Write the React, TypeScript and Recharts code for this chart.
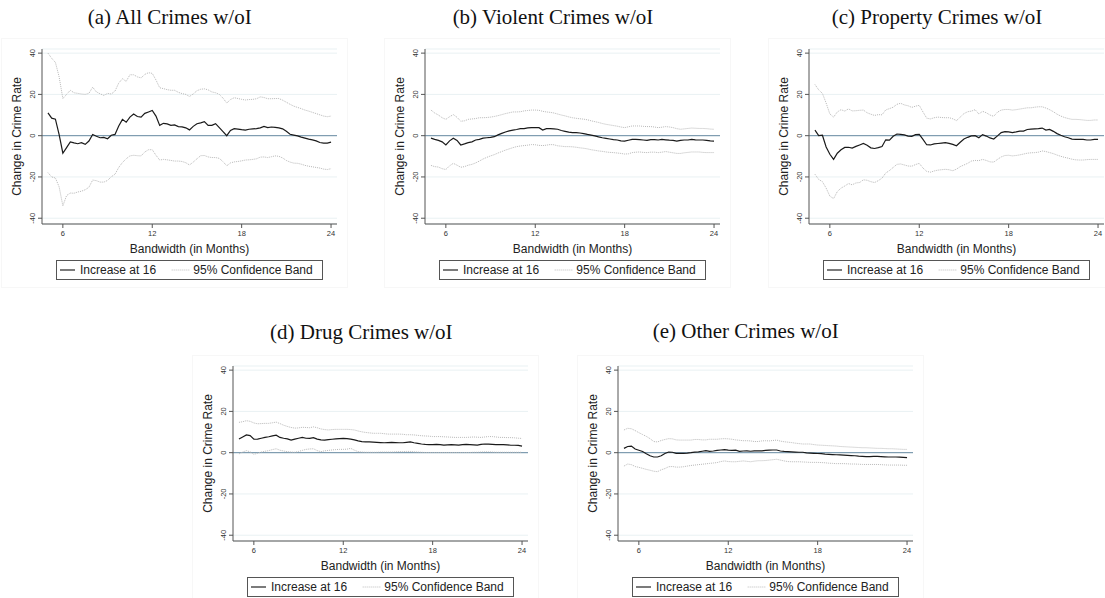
import React from 'react';
import { LineChart, Line, XAxis, YAxis, CartesianGrid, ReferenceLine } from 'recharts';

// bandwidth grid (months), one row per month
const BANDWIDTH = [
  5, 5.25, 5.5, 5.75,
  6, 6.25, 6.5, 6.75,
  7, 7.25, 7.5, 7.75,
  8, 8.25, 8.5, 8.75,
  9, 9.25, 9.5, 9.75,
  10, 10.25, 10.5, 10.75,
  11, 11.25, 11.5, 11.75,
  12, 12.25, 12.5, 12.75,
  13, 13.25, 13.5, 13.75,
  14, 14.25, 14.5, 14.75,
  15, 15.25, 15.5, 15.75,
  16, 16.25, 16.5, 16.75,
  17, 17.25, 17.5, 17.75,
  18, 18.25, 18.5, 18.75,
  19, 19.25, 19.5, 19.75,
  20, 20.25, 20.5, 20.75,
  21, 21.25, 21.5, 21.75,
  22, 22.25, 22.5, 22.75,
  23, 23.25, 23.5, 23.75,
  24,
];

const X_TICKS = [6, 12, 18, 24];
const Y_TICKS = [-40, -20, 0, 20, 40];

const ALL_EST = [
  11.0, 8.5, 8.0, 0.5,
  -8.5, -5.8, -3.0, -3.5,
  -3.9, -3.4, -4.2, -2.6,
  0.6, -0.3, -1.0, -0.8,
  -1.5, 0.2, 0.6, 4.7,
  7.9, 6.5, 9.0, 10.5,
  9.3, 9.0, 10.8, 11.5,
  12.2, 9.5, 5.0, 6.0,
  5.7, 5.0, 5.2, 4.4,
  4.3, 3.8, 2.8, 4.5,
  5.8, 6.2, 6.8, 5.0,
  5.0, 5.8, 3.9, 2.0,
  0.0, 2.5, 3.4, 3.2,
  2.9, 2.7, 3.1, 3.3,
  3.4, 3.8, 4.5, 3.9,
  4.2, 4.0, 3.8, 3.3,
  2.1, 0.7, 0.3, -0.1,
  -0.7, -1.2, -1.7, -2.0,
  -2.5, -3.3, -3.6, -3.6,
  -3.1,
];
const ALL_UPPER = [
  40, 37.5, 35.5, 28.5,
  18.0, 20.0, 22.0, 20.8,
  20.5, 20.2, 20.0, 20.5,
  23.5, 21.2, 20.3, 19.5,
  20.5, 20.2, 21.6, 25.5,
  27.6, 26.3, 29.5, 29.5,
  28.5, 28.0, 29.7, 30.5,
  30.2, 27.0, 23.2, 22.8,
  22.3, 22.0, 22.0, 21.0,
  20.4, 20.0, 19.0, 20.2,
  21.8, 22.5, 22.7, 22.2,
  21.2, 20.8, 20.0, 18.2,
  15.8, 17.5, 18.4, 18.0,
  17.6, 17.3, 17.5, 17.6,
  17.9, 18.8, 18.5, 17.9,
  17.9, 18.0, 18.0, 17.2,
  16.2, 15.2, 14.3, 13.7,
  13.1, 12.4, 11.9, 11.3,
  10.7, 10.1, 9.5, 9.2,
  9.5,
];
const ALL_LOWER = [
  -17.9, -20.0, -20.5, -24.8,
  -34.0, -29.0, -27.8, -27.9,
  -27.3, -26.9, -26.2, -25.0,
  -21.5, -21.8, -22.5, -22.5,
  -21.7, -19.9, -18.7, -15.4,
  -13.0, -11.2, -9.8, -9.5,
  -9.7, -9.8, -7.9, -6.8,
  -6.8, -9.5, -11.8, -11.5,
  -11.7, -12.0, -12.3, -12.3,
  -12.5, -13.1, -14.2, -12.8,
  -11.2, -9.7, -9.6, -10.3,
  -10.6, -10.6, -11.0, -12.6,
  -14.6, -13.2, -12.7, -12.5,
  -12.2, -11.8, -11.7, -11.5,
  -11.2, -10.4, -10.3, -10.6,
  -10.2, -9.8, -10.0, -10.8,
  -12.0, -12.8, -13.3, -13.4,
  -13.8, -14.4, -14.8, -15.1,
  -15.4, -15.7, -16.2, -16.4,
  -16.0,
];

const VIOLENT_EST = [
  -1.2, -1.8, -2.3, -3.0,
  -4.5, -2.5, -1.2, -2.3,
  -4.5, -4.0, -3.4, -3.0,
  -2.1, -1.8, -1.2, -1.0,
  -0.8, -0.5, 0.4, 1.1,
  1.8, 2.3, 2.7, 3.0,
  3.4, 3.4, 3.8, 3.9,
  3.9, 3.9, 2.7, 3.4,
  3.4, 3.3, 3.1, 2.5,
  2.1, 1.7, 1.5, 1.5,
  1.3, 1.0, 0.6, 0.3,
  -0.1, -0.6, -1.0, -1.3,
  -1.6, -1.9, -2.1, -2.5,
  -2.6, -2.2, -1.8, -1.8,
  -1.9, -2.1, -2.3, -1.9,
  -1.9, -2.1, -1.8, -2.0,
  -2.2, -2.3, -2.6, -2.3,
  -2.1, -2.1, -1.8, -2.0,
  -2.1, -2.1, -2.3, -2.5,
  -2.6,
];
const VIOLENT_UPPER = [
  12.4, 11.0, 10.0, 8.7,
  7.9, 9.2, 10.2, 8.9,
  7.0, 7.2, 7.9, 8.1,
  8.3, 8.7, 8.7, 8.8,
  9.0, 9.3, 9.7, 10.2,
  10.7, 11.1, 11.5, 11.5,
  11.6, 12.0, 12.2, 12.4,
  12.4, 12.3, 11.8, 11.5,
  11.3, 11.0, 10.5, 10.0,
  9.6, 9.1, 8.7, 8.4,
  8.2, 8.0, 7.7, 7.2,
  6.8, 6.4, 5.9, 5.5,
  5.2, 4.9, 4.6, 4.2,
  3.9, 4.3, 4.7, 4.7,
  4.7, 4.5, 4.4, 4.4,
  4.2, 3.9, 4.1, 4.4,
  4.2, 3.9, 3.4, 3.1,
  3.3, 3.5, 3.7, 3.6,
  3.5, 3.5, 3.4, 3.2,
  3.1,
];
const VIOLENT_LOWER = [
  -14.4, -15.0, -15.2, -16.0,
  -16.4, -14.6, -13.4, -14.3,
  -15.3, -15.0, -14.3, -13.9,
  -13.2, -12.3, -11.3, -10.5,
  -9.8, -9.2, -8.4, -7.7,
  -7.0, -6.4, -5.8, -5.3,
  -5.0, -4.8, -4.6, -4.3,
  -4.4, -4.7, -4.8, -4.6,
  -4.3, -4.4, -4.9, -5.1,
  -5.3, -5.3, -5.4, -5.6,
  -5.9, -6.1, -6.4, -6.8,
  -7.1, -7.4, -7.6, -7.9,
  -8.1, -8.2, -8.4, -8.6,
  -8.9, -8.8, -8.2, -8.0,
  -7.9, -8.1, -8.2, -8.0,
  -8.0, -8.2, -8.0, -7.7,
  -8.0, -8.3, -8.6, -8.6,
  -8.3, -8.1, -7.9, -7.9,
  -7.9, -8.1, -8.2, -8.2,
  -8.2,
];

const PROPERTY_EST = [
  2.7, 0.0, 0.2, -5.5,
  -9.0, -11.5, -8.5, -6.8,
  -5.7, -5.6, -6.0, -5.2,
  -4.5, -3.8, -4.6, -5.9,
  -6.2, -5.8, -5.3, -2.0,
  -2.2, -0.3, 0.8, 0.6,
  0.4, -0.2, -0.3, 0.5,
  0.6, -1.8, -4.4, -4.5,
  -4.0, -3.8, -3.6, -3.4,
  -3.7, -4.2, -4.9, -3.2,
  -1.6, -0.8, -0.1, 0.0,
  -1.0, 0.5, -0.2, -1.1,
  -1.6, -0.1, 1.5, 2.0,
  1.8, 1.5, 1.8, 2.2,
  2.2, 3.0, 3.2, 3.3,
  3.4, 3.7, 2.7, 3.0,
  2.1, 1.0, 0.2, -0.5,
  -1.0, -1.7, -1.8, -1.8,
  -1.8, -2.1, -2.1, -1.8,
  -1.8,
];
const PROPERTY_UPPER = [
  24.8, 22.2, 20.5, 15.8,
  10.5, 9.0, 11.5, 12.6,
  11.9, 13.0, 12.0, 12.1,
  12.3, 12.4, 11.1, 10.4,
  9.8, 10.2, 10.1, 12.5,
  13.1, 13.8, 15.2, 15.7,
  14.9, 14.5, 13.7, 14.3,
  14.7, 11.5, 8.5, 8.1,
  8.7, 9.0, 8.8, 8.7,
  8.7, 8.2, 7.3, 9.0,
  10.7, 11.6, 11.9, 12.6,
  10.5, 11.8, 11.1, 10.0,
  9.4, 11.4, 12.4, 12.7,
  12.7, 12.4, 12.6, 12.9,
  13.2, 13.5, 13.5, 13.8,
  14.0, 14.0, 13.4, 12.6,
  11.6, 10.4, 9.5, 8.8,
  8.3, 7.9, 7.9, 7.8,
  7.6, 7.4, 7.4, 7.6,
  7.6,
];
const PROPERTY_LOWER = [
  -18.7, -21.2, -22.3, -25.4,
  -29.3, -30.5, -27.1, -25.4,
  -24.4, -23.2, -23.8, -22.9,
  -22.7, -21.4, -21.6, -22.3,
  -22.7, -21.8, -20.6, -18.1,
  -16.9, -15.4, -13.9, -13.7,
  -14.2, -14.7, -14.8, -14.0,
  -13.4, -15.7, -17.3, -17.7,
  -17.1, -16.7, -16.5, -16.3,
  -16.5, -17.0, -16.2, -15.0,
  -14.2, -13.4, -12.3, -12.0,
  -12.1, -11.5, -12.0, -12.7,
  -12.8, -11.5, -10.3, -9.6,
  -9.5, -9.8, -9.6, -9.3,
  -8.9, -8.5, -8.3, -8.2,
  -8.0, -7.4, -7.7, -8.2,
  -8.7, -9.4, -10.0, -10.5,
  -10.9, -11.4, -11.7, -11.8,
  -11.8, -11.6, -11.5, -11.5,
  -11.5,
];

const DRUG_EST = [
  6.6, 7.6, 8.6, 8.3,
  6.5, 6.6, 7.0, 7.4,
  7.7, 8.1, 8.5, 7.4,
  7.0, 6.7, 6.1, 6.6,
  7.0, 7.4, 7.0, 6.9,
  7.3, 6.6, 6.2, 6.1,
  6.3, 6.5, 6.7, 6.8,
  6.9, 6.8, 6.6, 6.2,
  5.7, 5.4, 5.2, 5.2,
  5.1, 5.0, 4.9, 4.8,
  4.9, 5.0, 4.9, 4.8,
  4.8, 5.0, 5.2, 4.8,
  4.5, 4.2, 4.0, 3.9,
  3.9, 4.0, 3.9, 3.7,
  3.8, 3.9, 3.8, 3.7,
  3.9, 4.0, 3.9, 3.8,
  3.7, 4.0, 4.2, 4.1,
  4.0, 3.9, 3.9, 3.9,
  3.8, 3.6, 3.6, 3.5,
  3.2,
];
const DRUG_UPPER = [
  14.7, 15.0, 15.5, 15.2,
  14.4, 14.0, 14.1, 14.2,
  14.2, 14.5, 14.8, 14.1,
  13.3, 12.7, 12.2, 11.9,
  12.0, 12.3, 12.2, 12.1,
  12.5, 12.1, 11.5, 11.2,
  11.0, 11.2, 11.3, 11.3,
  11.3, 11.3, 11.2, 11.0,
  10.5, 10.1, 9.8, 9.6,
  9.4, 9.4, 9.4, 9.2,
  9.0, 9.0, 9.0, 9.0,
  8.9, 8.7, 8.7, 8.6,
  8.4, 8.2, 8.1, 8.0,
  7.8, 7.8, 7.8, 7.7,
  7.6, 7.5, 7.4, 7.4,
  7.4, 7.4, 7.5, 7.6,
  7.5, 7.4, 7.6, 7.8,
  7.8, 7.6, 7.4, 7.4,
  7.3, 7.3, 7.2, 7.0,
  6.9,
];
const DRUG_LOWER = [
  -0.6, 0.3, 1.0, 0.4,
  -0.8, -0.3, 0.3, 0.7,
  1.0, 1.5, 1.9, 1.2,
  0.8, 0.5, 0.3, 0.2,
  0.6, 1.1, 1.6, 1.8,
  1.9, 1.0, 0.5, 0.9,
  1.1, 1.3, 1.5, 1.6,
  1.6, 1.7, 2.1, 1.2,
  0.5, 0.3, 0.2, 0.2,
  0.2, 0.2, 0.3, 0.3,
  0.3, 0.3, 0.4, 0.5,
  0.5, 0.6, 0.6, 0.4,
  0.3, 0.2, 0.1, 0.1,
  0.1, 0.1, 0.1, 0.1,
  0.1, 0.1, 0.1, 0.1,
  0.1, 0.1, 0.1, 0.2,
  0.2, 0.3, 0.4, 0.4,
  0.3, 0.2, 0.2, 0.2,
  0.2, 0.2, 0.2, 0.2,
  0.2,
];

const OTHER_EST = [
  2.1, 3.0, 3.2, 1.8,
  1.2, 0.6, -0.5, -1.5,
  -2.1, -2.1, -1.5, -0.4,
  0.3, 0.2, -0.3, -0.3,
  -0.3, -0.2, 0.0, 0.3,
  0.4, 0.7, 1.0, 0.6,
  0.8, 1.1, 1.3, 1.5,
  1.2, 1.1, 1.2, 0.6,
  0.8, 0.9, 0.7, 0.9,
  0.9, 0.9, 1.1, 1.2,
  1.3, 1.3, 0.8, 0.6,
  0.5, 0.4, 0.3, 0.2,
  0.2, -0.1, -0.2, -0.3,
  -0.4, -0.5, -0.7, -0.8,
  -0.9, -1.0, -1.1, -1.2,
  -1.3, -1.4, -1.5, -1.7,
  -1.8, -1.9, -1.9, -1.8,
  -1.8, -1.9, -2.0, -2.1,
  -2.1, -2.1, -2.2, -2.3,
  -2.4,
];
const OTHER_UPPER = [
  11.0, 11.8, 11.6, 10.7,
  9.7, 8.8, 7.9, 6.8,
  5.4, 5.2, 5.9, 6.4,
  6.8, 6.7, 6.2, 6.1,
  6.1, 6.1, 6.1, 6.4,
  6.4, 6.2, 6.2, 6.5,
  6.5, 6.5, 6.7, 6.8,
  6.7, 6.5, 6.2, 6.0,
  5.8, 5.8, 5.7, 5.4,
  5.4, 5.7, 5.8, 5.7,
  5.9, 6.1, 5.6, 5.3,
  5.1, 4.9, 4.6, 4.4,
  4.2, 4.2, 4.2, 3.9,
  3.7, 3.6, 3.5, 3.4,
  3.3, 3.2, 3.0, 2.9,
  2.8, 2.7, 2.6, 2.5,
  2.4, 2.4, 2.3, 2.2,
  2.1, 2.1, 2.0, 1.9,
  1.9, 1.8, 1.7, 1.6,
  1.6,
];
const OTHER_LOWER = [
  -6.5, -5.5, -5.8, -6.7,
  -7.1, -7.6, -8.1, -8.5,
  -9.0, -9.2, -8.3, -7.7,
  -6.8, -6.7, -7.0, -7.0,
  -6.8, -6.5, -6.2, -6.0,
  -5.8, -5.6, -5.4, -5.2,
  -5.0, -4.8, -4.3, -4.0,
  -4.3, -4.4, -4.4, -4.2,
  -4.0, -4.2, -4.4, -4.1,
  -3.9, -3.9, -3.8, -3.6,
  -3.4, -3.2, -3.6, -4.0,
  -4.3, -4.4, -4.4, -4.4,
  -4.5, -4.6, -4.7, -4.7,
  -4.7, -4.8, -4.9, -5.1,
  -5.2, -5.3, -5.3, -5.3,
  -5.4, -5.5, -5.5, -5.6,
  -5.7, -5.7, -5.7, -5.7,
  -5.7, -5.8, -5.9, -6.0,
  -6.0, -6.0, -6.0, -6.1,
  -6.1,
];

const SANS = '"Liberation Sans", Arial, Helvetica, sans-serif';
const SERIF = '"Liberation Serif", "Times New Roman", serif';

// left = pixel of the y axis line, top = pixel of the plot top
const PANELS = [
  { title: '(a) All Crimes w/oI', est: ALL_EST, upper: ALL_UPPER, lower: ALL_LOWER, left: 41.7, top: 49.3, titleY: 16.7 },
  { title: '(b) Violent Crimes w/oI', est: VIOLENT_EST, upper: VIOLENT_UPPER, lower: VIOLENT_LOWER, left: 425, top: 49.3, titleY: 16.7 },
  { title: '(c) Property Crimes w/oI', est: PROPERTY_EST, upper: PROPERTY_UPPER, lower: PROPERTY_LOWER, left: 809, top: 49.3, titleY: 16.7 },
  { title: '(d) Drug Crimes w/oI', est: DRUG_EST, upper: DRUG_UPPER, lower: DRUG_LOWER, left: 233.3, top: 366, titleY: 332 },
  { title: '(e) Other Crimes w/oI', est: OTHER_EST, upper: OTHER_UPPER, lower: OTHER_LOWER, left: 617.7, top: 366, titleY: 331 },
];

const AXIS_W = 40;
const PLOT_W = 295;
const PLOT_H = 175;
const X_AXIS_H = 32;
const M_TOP = 5;

const YTick = ({ x, y, payload }: any) => {
  const cx = x - 4;
  return (
    <text
      x={cx}
      y={y}
      transform={`rotate(-90, ${cx}, ${y})`}
      textAnchor="middle"
      dy="0.35em"
      fontSize={7.5}
      fontFamily={SANS}
      fill="#333"
    >
      {payload.value}
    </text>
  );
};

const yTitle = (props: any) => {
  const vb = props.viewBox || {};
  const x = (vb.x ?? 0) + (vb.width ?? AXIS_W) - 25;
  const y = (vb.y ?? M_TOP) + (vb.height ?? PLOT_H) / 2;
  return (
    <text x={x} y={y} transform={`rotate(-90, ${x}, ${y})`} textAnchor="middle" dy="0.35em"
      fontSize={12} fontFamily={SANS} fill="#222">
      Change in Crime Rate
    </text>
  );
};

const xTitle = (props: any) => {
  const vb = props.viewBox || {};
  const x = (vb.x ?? AXIS_W) + (vb.width ?? PLOT_W) / 2;
  const y = (vb.y ?? M_TOP + PLOT_H) + 24.3;
  return (
    <text x={x} y={y} textAnchor="middle" dy="0.35em" fontSize={12} fontFamily={SANS} fill="#222">
      Bandwidth (in Months)
    </text>
  );
};

function Legend({ left, top }: { left: number; top: number }) {
  return (
    <div style={{ position: 'absolute', left, top, width: 267, height: 20, border: '1px solid #555', boxSizing: 'border-box', background: '#fff' }}>
      <svg width={265} height={18} style={{ display: 'block' }}>
        <line x1={3} x2={18} y1={9} y2={9} stroke="#333" strokeWidth={1.3} />
        <text x={23} y={13.2} fontSize={12} fontFamily={SANS} fill="#222">Increase at 16</text>
        <line x1={114.7} x2={133} y1={9} y2={9} stroke="#bbb" strokeWidth={1} strokeDasharray="1 1" />
        <text x={136.3} y={13.2} fontSize={12} fontFamily={SANS} fill="#222">95% Confidence Band</text>
      </svg>
    </div>
  );
}

function Panel({ title, est, upper, lower, left, top, titleY }: any) {
  const data = BANDWIDTH.map((b, i) => ({ b, est: est[i], upper: upper[i], lower: lower[i] }));
  return (
    <>
      <div style={{ position: 'absolute', left: left - 41, top: top - 11, width: 347, height: 250, border: '1px solid #f7f7f7', boxSizing: 'border-box' }} />
      <div style={{ position: 'absolute', left: left + 128 - 160, top: titleY - 13, width: 320, textAlign: 'center', fontFamily: SERIF, fontSize: 21, lineHeight: '26px', color: '#111', whiteSpace: 'nowrap' }}>
        {title}
      </div>
      <div style={{ position: 'absolute', left: left - AXIS_W, top: top - M_TOP }}>
        <LineChart
          width={AXIS_W + PLOT_W + 5}
          height={M_TOP + PLOT_H + X_AXIS_H}
          data={data}
          margin={{ top: M_TOP, right: 5, left: 0, bottom: 0 }}
        >
          <CartesianGrid vertical={false} stroke="#e9f1f3" />
          <XAxis
            dataKey="b"
            type="number"
            domain={[4.6, 24.4]}
            ticks={X_TICKS}
            allowDataOverflow
            height={X_AXIS_H}
            tickSize={4}
            tickMargin={3}
            stroke="#555"
            tick={{ fontSize: 7.5, fill: '#333', fontFamily: SANS }}
            label={xTitle}
          />
          <YAxis
            type="number"
            domain={[-42.8, 42]}
            ticks={Y_TICKS}
            allowDataOverflow
            width={AXIS_W}
            tickSize={4}
            tickMargin={2}
            stroke="#555"
            tick={<YTick />}
            label={yTitle}
          />
          <ReferenceLine y={0} stroke="#6a8ca3" strokeWidth={1} />
          <Line type="linear" dataKey="upper" stroke="#b8b8b8" strokeWidth={1} strokeDasharray="1 1" dot={false} isAnimationActive={false} />
          <Line type="linear" dataKey="lower" stroke="#b8b8b8" strokeWidth={1} strokeDasharray="1 1" dot={false} isAnimationActive={false} />
          <Line type="linear" dataKey="est" stroke="#1a1a1a" strokeWidth={1.2} dot={false} isAnimationActive={false} />
        </LineChart>
      </div>
      <Legend left={left + 14} top={top + 210.7} />
    </>
  );
}

export default function App() {
  return (
    <div style={{ position: 'absolute', left: 0, top: 0, width: 1105, height: 598, background: '#fff', overflow: 'hidden' }}>
      {PANELS.map((p) => (
        <Panel key={p.title} {...p} />
      ))}
    </div>
  );
}
